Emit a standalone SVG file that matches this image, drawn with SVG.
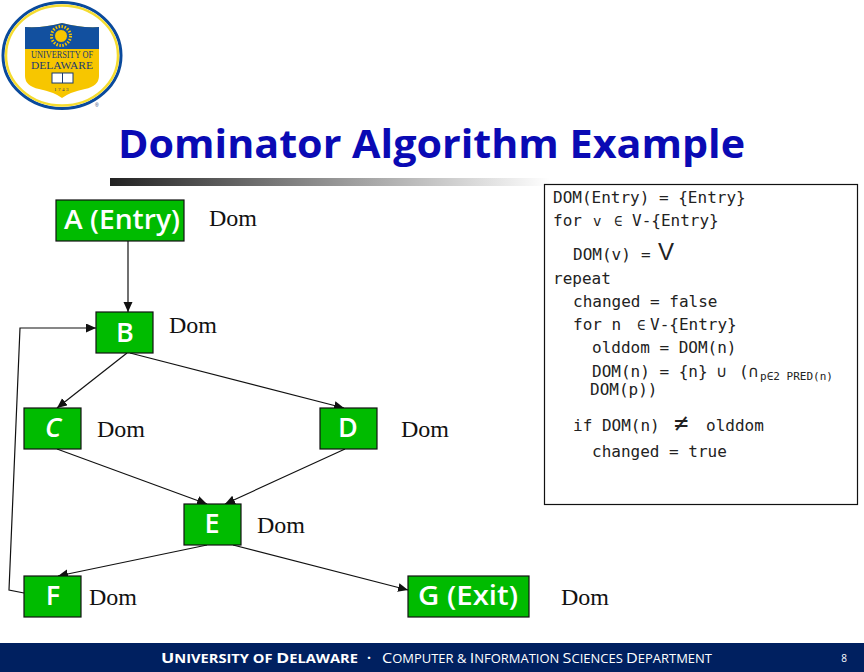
<svg xmlns="http://www.w3.org/2000/svg" width="864" height="672" viewBox="0 0 864 672">
<style>
.n{fill:#00bb00;stroke:#111;stroke-width:1.2}
.l{font:600 27px "Open Sans","DejaVu Sans",sans-serif;fill:#fff;text-anchor:middle}
.d{font:24px "Liberation Serif",serif;fill:#111}
.c{font:16px "DejaVu Sans Mono","Liberation Mono",monospace;fill:#222}
.s{font-size:14px}
.e{fill:none;stroke:#111;stroke-width:1.2}
.a{marker-end:url(#ah)}
</style>
<defs>
<marker id="ah" markerUnits="userSpaceOnUse" markerWidth="12" markerHeight="10" refX="10" refY="4.5" orient="auto"><path d="M0 0L10 4.5L0 9z" fill="#111"/></marker>
<linearGradient id="bar"><stop offset="0" stop-color="#222"/><stop offset="0.45" stop-color="#888"/><stop offset="1" stop-color="#fff"/></linearGradient>
</defs>
<rect width="864" height="672" fill="#fff"/>
<g id="logo">
<ellipse cx="62" cy="55.500" rx="59" ry="53" fill="#fff" stroke="#0a4a9c" stroke-width="3"/>
<ellipse cx="62" cy="55.500" rx="56" ry="50" fill="none" stroke="#f5dc30" stroke-width="2.500"/>
<path d="M25 27Q45 28 62 23Q80 28 99 27V76Q99 86 85 89Q70 92 62 98Q54 92 39 89Q25 86 25 76z" fill="#f7c600"/>
<path d="M25 27Q45 28 62 23Q80 28 99 27V49H25z" fill="#12509f"/>
<circle cx="61" cy="36" r="6.500" fill="#f7c600" stroke="#12509f"/>
<circle cx="61" cy="36" r="9.500" fill="none" stroke="#f7c600" stroke-width="3" stroke-dasharray="1.500 1.500"/>
<text x="62" y="58" font-family="Liberation Serif,serif" font-size="10" fill="#1a3a70" text-anchor="middle" textLength="62" lengthAdjust="spacingAndGlyphs">UNIVERSITY OF</text>
<text x="62" y="69" font-family="Liberation Serif,serif" font-size="10" fill="#1a3a70" text-anchor="middle" textLength="62" lengthAdjust="spacingAndGlyphs">DELAWARE</text>
<rect x="52" y="73" width="21" height="10" fill="#fff" stroke="#1a3a70"/><path d="M62.500 73V83" stroke="#1a3a70"/>
<text x="62" y="91" font-family="Liberation Serif,serif" font-size="5" fill="#1a3a70" text-anchor="middle" letter-spacing="1.500">1743</text>
<text x="95" y="107" font-family="Liberation Sans,sans-serif" font-size="5" fill="#1a3a70">®</text>
</g>
<text id="title" x="118" y="158" font-family="Open Sans,DejaVu Sans,sans-serif" font-weight="700" font-size="40" fill="#0a0ab4" textLength="627" lengthAdjust="spacingAndGlyphs">Dominator Algorithm Example</text>
<rect id="rule" x="110" y="178" width="440" height="8" fill="url(#bar)"/>
<g id="connectors">
<path class="e a" d="M128 241V312"/>
<path class="e a" d="M127 353L57 408"/>
<path class="e a" d="M130 353L344 408"/>
<path class="e a" d="M57 449L207 504"/>
<path class="e a" d="M345 449L225 504"/>
<path class="e a" d="M207 545L58 576"/>
<path class="e a" d="M233 545L408 590"/>
<path class="e a" d="M24 593L9 590L20 328H96"/>
</g>
<g id="node-a"><rect class="n" x="56" y="200" width="128" height="41"/><text class="l" x="122" y="229" textLength="116" lengthAdjust="spacingAndGlyphs">A (Entry)</text></g>
<g id="node-b"><rect class="n" x="96" y="312" width="57" height="41"/><text class="l" x="125" y="342">B</text></g>
<g id="node-c"><rect class="n" x="24" y="408" width="57" height="41"/><text class="l" x="53" y="437" style="font-style:italic">C</text></g>
<g id="node-d"><rect class="n" x="320" y="408" width="57" height="41"/><text class="l" x="348" y="437">D</text></g>
<g id="node-e"><rect class="n" x="184" y="504" width="57" height="41"/><text class="l" x="212" y="533">E</text></g>
<g id="node-f"><rect class="n" x="24" y="576" width="57" height="41"/><text class="l" x="53" y="605">F</text></g>
<g id="node-g"><rect class="n" x="408" y="576" width="121" height="41"/><text class="l" x="468" y="605" textLength="100" lengthAdjust="spacingAndGlyphs">G (Exit)</text></g>
<g id="dom-labels">
<text class="d" x="209" y="226">Dom</text>
<text class="d" x="169" y="333">Dom</text>
<text class="d" x="97" y="437">Dom</text>
<text class="d" x="401" y="437">Dom</text>
<text class="d" x="257" y="533">Dom</text>
<text class="d" x="89" y="605">Dom</text>
<text class="d" x="561" y="605">Dom</text>
</g>
<g id="code">
<rect x="544.500" y="184.500" width="313" height="320" fill="#fff" stroke="#111" stroke-width="1.200"/>
<text class="c" x="553" y="203">DOM(Entry) = {Entry}</text>
<text class="c" x="553" y="226">for <tspan class="s" x="593">v</tspan> <tspan class="s" x="614">∈</tspan> <tspan x="632">V-{Entry}</tspan></text>
<text class="c" x="573" y="260">DOM(v) <tspan x="641">=</tspan> <tspan x="658" font-family="Liberation Sans,sans-serif" font-size="24">V</tspan></text>
<text class="c" x="553" y="284">repeat</text>
<text class="c" x="573" y="307">changed = false</text>
<text class="c" x="573" y="330">for n <tspan class="s" x="637">∈</tspan> <tspan x="650">V-{Entry}</tspan></text>
<text class="c" x="592" y="353">olddom = DOM(n)</text>
<text class="c" x="592" y="377">DOM(n) = {n} <tspan x="717">∪</tspan> <tspan x="739">(∩</tspan><tspan x="760" font-size="11" dy="3" textLength="73" lengthAdjust="spacingAndGlyphs">p∈2 PRED(n)</tspan></text>
<text class="c" x="590" y="395">DOM(p))</text>
<text class="c" x="573" y="431">if DOM(n) <tspan x="674" font-size="24">≠</tspan> <tspan x="706">olddom</tspan></text>
<text class="c" x="592" y="457">changed = true</text>
</g>
<g id="footer">
<rect y="643" width="864" height="29" fill="#002060"/>
<text x="161" y="663" font-family="Open Sans,DejaVu Sans,sans-serif" font-size="12.500" font-weight="700" fill="#fff" textLength="197" lengthAdjust="spacingAndGlyphs"><tspan font-size="15">U</tspan>NIVERSITY  OF <tspan font-size="15">D</tspan>ELAWARE</text>
<text x="367" y="663" font-family="Open Sans,DejaVu Sans,sans-serif" font-size="14" font-weight="700" fill="#fff">·</text>
<text x="382" y="663" font-family="Open Sans,DejaVu Sans,sans-serif" font-size="12" fill="#fff" textLength="330" lengthAdjust="spacingAndGlyphs"><tspan font-size="15">C</tspan>OMPUTER &amp; <tspan font-size="15">I</tspan>NFORMATION <tspan font-size="15">S</tspan>CIENCES <tspan font-size="15">D</tspan>EPARTMENT</text>
<text x="844" y="662" font-family="Open Sans,DejaVu Sans,sans-serif" font-size="10" fill="#fff" text-anchor="middle">8</text>
</g>
</svg>
